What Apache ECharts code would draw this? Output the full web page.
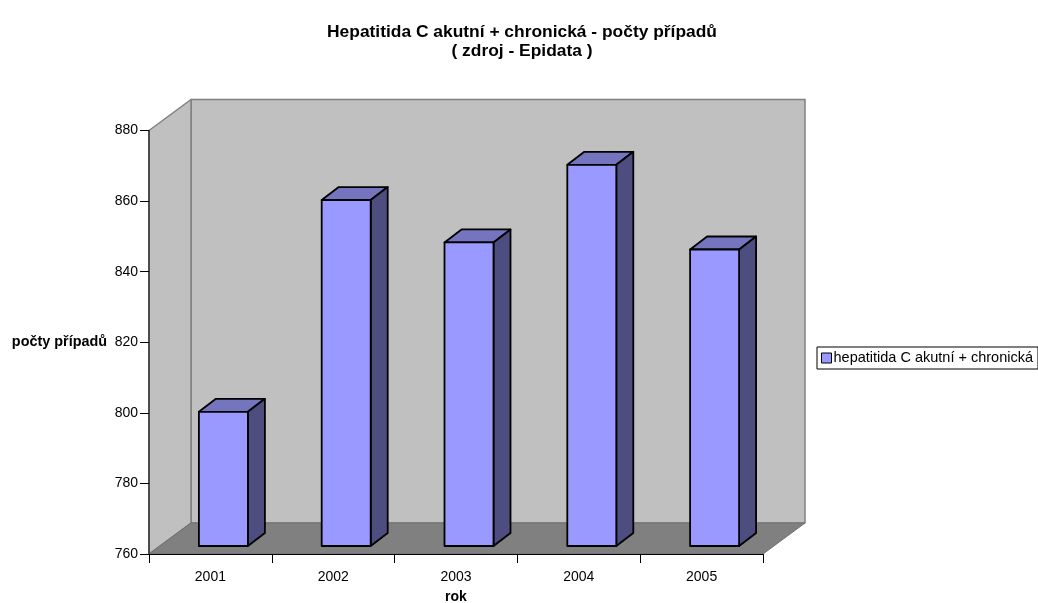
<!DOCTYPE html>
<html>
<head>
<meta charset="utf-8">
<style>
  html, body { margin: 0; padding: 0; background: #fff; }
  #main { width: 1038px; height: 603px; }
</style>
<script src="https://cdn.jsdelivr.net/npm/echarts@6/dist/echarts.min.js"></script>
</head>
<body>
<div id="main"></div>
<script>
var categories = ['2001', '2002', '2003', '2004', '2005'];
var cases = [800, 860, 848, 870, 846];
var seriesName = 'hepatitida C akutní + chronická';
var yMin = 760, yMax = 880, yStep = 20;

// fake 3d offsets, in px
var wallDx = 42, wallDy = 31;
var barDx = 17, barDy = 13;
var barWidth = 49, barShift = 13, floorGap = 8;

var font = '"Liberation Sans", Arial, sans-serif';
var chart = echarts.init(document.getElementById('main'));

function poly(points, fill, stroke, width) {
    return {
        type: 'polygon',
        shape: { points: points },
        style: { fill: fill, stroke: stroke, lineWidth: width, lineJoin: 'round' }
    };
}

function renderWalls(params) {
    var c = params.coordSys;
    var l = c.x, r = c.x + c.width, t = c.y, b = c.y + c.height;
    return {
        type: 'group',
        children: [
            poly([[l + wallDx, t - wallDy], [r + wallDx, t - wallDy], [r + wallDx, b - wallDy], [l + wallDx, b - wallDy]], '#c0c0c0', '#808080', 1.5),
            poly([[l, t], [l + wallDx, t - wallDy], [l + wallDx, b - wallDy], [l, b]], '#c0c0c0', '#808080', 1.5),
            poly([[l, b], [l + wallDx, b - wallDy], [r + wallDx, b - wallDy], [r, b]], '#808080', '#707070', 1)
        ]
    };
}

function renderBar(params, api) {
    var top = api.coord([api.value(0), api.value(1)]);
    var base = api.coord([api.value(0), yMin]);
    var x0 = top[0] + barShift - barWidth / 2;
    var x1 = x0 + barWidth;
    var y0 = top[1] - 1;
    var y1 = base[1] - floorGap;
    return {
        type: 'group',
        children: [
            poly([[x0, y0], [x0 + barDx, y0 - barDy], [x1 + barDx, y0 - barDy], [x1, y0]], '#7474bf', '#000', 1.8),
            poly([[x1, y0], [x1 + barDx, y0 - barDy], [x1 + barDx, y1 - barDy], [x1, y1]], '#4d4d80', '#000', 1.8),
            poly([[x0, y0], [x1, y0], [x1, y1], [x0, y1]], '#9999ff', '#000', 1.8)
        ]
    };
}

chart.setOption({
    animation: false,
    backgroundColor: '#fff',
    title: {
        text: 'Hepatitida C akutní + chronická - počty případů\n( zdroj - Epidata )',
        left: 517,
        top: 18,
        textAlign: 'center',
        textStyle: { fontFamily: font, fontSize: 17.4, fontWeight: 'bold', color: '#000', lineHeight: 19 }
    },
    legend: {
        left: 817,
        top: 347,
        orient: 'vertical',
        data: [seriesName],
        selectedMode: false,
        borderColor: '#000',
        borderWidth: 1,
        padding: [3.5, 5, 3.5, 4],
        itemWidth: 10,
        itemHeight: 10,
        itemGap: 0,
        icon: 'rect',
        itemStyle: { color: '#9999ff', borderColor: '#000', borderWidth: 1 },
        textStyle: { fontFamily: font, fontSize: 14.5, color: '#000', padding: [0, 0, 0, -3] }
    },
    grid: { left: 149, top: 130.5, width: 614, height: 423.5, outerBoundsMode: 'none' },
    xAxis: {
        type: 'category',
        data: categories,
        z: 3,
        name: 'rok',
        nameLocation: 'middle',
        nameGap: 36,
        nameTextStyle: { fontFamily: font, fontSize: 14, fontWeight: 'bold', color: '#000' },
        axisLine: { lineStyle: { color: '#000', width: 1 } },
        axisTick: { show: true, alignWithLabel: false, length: 9, lineStyle: { color: '#000', width: 1 } },
        axisLabel: { fontFamily: font, fontSize: 14, color: '#000', margin: 16 }
    },
    yAxis: {
        type: 'value',
        min: yMin,
        max: yMax,
        interval: yStep,
        z: 3,
        name: 'počty případů',
        nameLocation: 'middle',
        nameRotate: 0,
        nameGap: 42,
        nameTextStyle: { fontFamily: font, fontSize: 14.4, fontWeight: 'bold', color: '#000', padding: [7, 0, 0, 0] },
        splitLine: { show: false },
        axisLine: { show: true, lineStyle: { color: '#333', width: 1.5 } },
        axisTick: { show: true, length: 9, lineStyle: { color: '#000', width: 1 } },
        axisLabel: { fontFamily: font, fontSize: 14, color: '#000', margin: 11, padding: [2, 0, 0, 0] }
    },
    series: [
        {
            type: 'custom',
            name: 'walls',
            z: 1,
            silent: true,
            clip: false,
            renderItem: renderWalls,
            data: [0]
        },
        {
            type: 'custom',
            name: seriesName,
            z: 5,
            clip: false,
            renderItem: renderBar,
            encode: { x: 0, y: 1 },
            itemStyle: { color: '#9999ff' },
            data: categories.map(function (c, i) { return [i, cases[i]]; })
        }
    ]
});
</script>
</body>
</html>
